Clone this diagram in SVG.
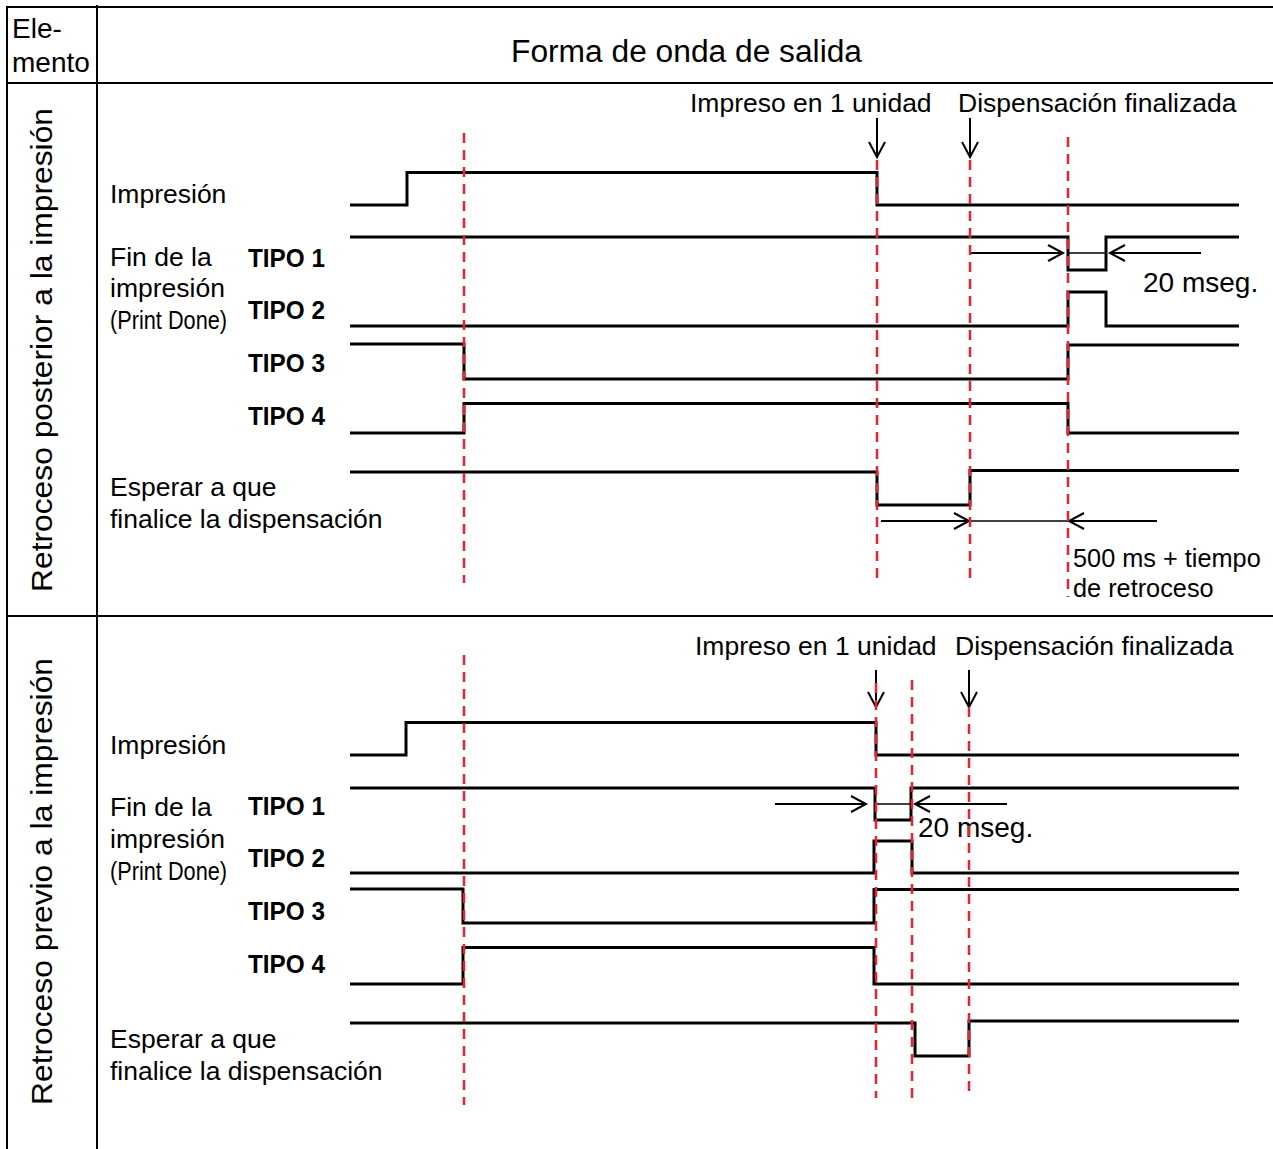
<svg xmlns="http://www.w3.org/2000/svg" width="1273" height="1149" viewBox="0 0 1273 1149">
<style>
text{font-family:"Liberation Sans",Arial,sans-serif;fill:#000}
.lbl{font-size:26.5px}
.tipo{font-size:26.5px;font-weight:bold}
.pd{font-size:25px}
.big{font-size:28px}
.vert{font-size:29px}
.grid{stroke:#000;stroke-width:2;fill:none}
.wave{stroke:#000;stroke-width:3;fill:none;stroke-linejoin:miter}
.arr{stroke:#000;stroke-width:2;fill:none;marker-end:url(#chev)}
.thin{stroke:#000;stroke-width:1.5;fill:none}
.red{stroke:#e8232d;stroke-width:2.5;fill:none;stroke-dasharray:10 7}
</style>
<defs>
<marker id="chev" markerUnits="userSpaceOnUse" viewBox="-17 -10 19 20" refX="0" refY="0" markerWidth="19" markerHeight="20" orient="auto" overflow="visible">
<path d="M-15,-8 L0,0 L-15,8" fill="none" stroke="#000" stroke-width="2"/>
</marker>
</defs>
<rect width="1273" height="1149" fill="#fff"/>
<g id="table">
<path class="grid" d="M7,7 H1273 M7,83 H1273 M7,616 H1273 M7,6 V1149 M97,5 V1149"/>
<text class="big" x="12" y="38">Ele-</text>
<text class="big" x="12" y="72">mento</text>
<text x="511" y="62" style="font-size:31px" textLength="351" lengthAdjust="spacingAndGlyphs">Forma de onda de salida</text>
<text class="vert" transform="translate(52,350) rotate(-90)" text-anchor="middle" textLength="484" lengthAdjust="spacingAndGlyphs">Retroceso posterior a la impresión</text>
<text class="vert" transform="translate(52,881.5) rotate(-90)" text-anchor="middle" textLength="447" lengthAdjust="spacingAndGlyphs">Retroceso previo a la impresión</text>
</g>
<g id="labels-top">
<text class="lbl" x="110" y="203">Impresión</text>
<text class="lbl" x="110" y="266">Fin de la</text>
<text class="lbl" x="110" y="297">impresión</text>
<text class="pd" x="110" y="329" textLength="117" lengthAdjust="spacingAndGlyphs">(Print Done)</text>
<text class="tipo" x="248" y="267" textLength="77" lengthAdjust="spacingAndGlyphs">TIPO 1</text>
<text class="tipo" x="248" y="319" textLength="77" lengthAdjust="spacingAndGlyphs">TIPO 2</text>
<text class="tipo" x="248" y="372" textLength="77" lengthAdjust="spacingAndGlyphs">TIPO 3</text>
<text class="tipo" x="248" y="425" textLength="77" lengthAdjust="spacingAndGlyphs">TIPO 4</text>
<text class="lbl" x="110" y="496">Esperar a que</text>
<text class="lbl" x="110" y="528">finalice la dispensación</text>
<text class="lbl" x="690" y="112">Impreso en 1 unidad</text>
<text class="lbl" x="958" y="112">Dispensación finalizada</text>
<text class="big" x="1143" y="292">20 mseg.</text>
<text x="1073" y="567" style="font-size:25.3px">500 ms + tiempo</text>
<text x="1073" y="597" style="font-size:25.3px">de retroceso</text>
</g>
<g id="labels-bottom">
<text class="lbl" x="110" y="754">Impresión</text>
<text class="lbl" x="110" y="816">Fin de la</text>
<text class="lbl" x="110" y="848">impresión</text>
<text class="pd" x="110" y="880" textLength="117" lengthAdjust="spacingAndGlyphs">(Print Done)</text>
<text class="tipo" x="248" y="815" textLength="77" lengthAdjust="spacingAndGlyphs">TIPO 1</text>
<text class="tipo" x="248" y="867" textLength="77" lengthAdjust="spacingAndGlyphs">TIPO 2</text>
<text class="tipo" x="248" y="920" textLength="77" lengthAdjust="spacingAndGlyphs">TIPO 3</text>
<text class="tipo" x="248" y="973" textLength="77" lengthAdjust="spacingAndGlyphs">TIPO 4</text>
<text class="lbl" x="110" y="1048">Esperar a que</text>
<text class="lbl" x="110" y="1080">finalice la dispensación</text>
<text class="lbl" x="695" y="655">Impreso en 1 unidad</text>
<text class="lbl" x="955" y="655">Dispensación finalizada</text>
<text class="big" x="918" y="837">20 mseg.</text>
</g>
<g id="waves-top">
<path class="wave" d="M350,205 H407 V172.5 H877 V205 H1239"/>
<path class="wave" d="M350,237 H1068 V270 H1106 V237 H1239"/>
<path class="wave" d="M350,326 H1068 V292 H1106 V326 H1239"/>
<path class="wave" d="M350,344 H464 V379 H1068 V345 H1239"/>
<path class="wave" d="M350,433 H464 V403.5 H1068 V433 H1239"/>
<path class="wave" d="M350,472 H877 V505 H970 V470.5 H1239"/>
</g>
<g id="waves-bottom">
<path class="wave" d="M350,755 H406 V722.5 H876 V755 H1239"/>
<path class="wave" d="M350,788 H875 V820 H911 V788 H1239"/>
<path class="wave" d="M350,873 H874 V841 H912 V873 H1239"/>
<path class="wave" d="M350,889 H463 V923 H874 V889.5 H1239"/>
<path class="wave" d="M350,984 H463 V947.5 H874 V984 H1239"/>
<path class="wave" d="M350,1023 H915 V1056 H969 V1021 H1239"/>
</g>
<g id="connectors">
<path class="arr" d="M877,118 V157"/>
<path class="arr" d="M970,118 V157"/>
<path class="arr" d="M970,253 H1063"/>
<path class="thin" d="M1068,253 H1106"/>
<path class="arr" d="M1201,253 H1110"/>
<path class="arr" d="M881,521 H969"/>
<path class="thin" d="M970,521 H1068"/>
<path class="arr" d="M1157,521 H1069"/>
<path class="arr" d="M876,670 V707"/>
<path class="arr" d="M969,670 V707"/>
<path class="arr" d="M775,804 H866"/>
<path class="thin" d="M875,804 H912"/>
<path class="arr" d="M1007,804 H915"/>
</g>
<g id="markers-red">
<path class="red" d="M464,133 V583 M877,160 V583 M970,160 V583 M1068,137 V597"/>
<path class="red" d="M464,655 V1105 M876,683 V1098 M912,680 V1098 M969,707 V1098"/>
</g>
</svg>
